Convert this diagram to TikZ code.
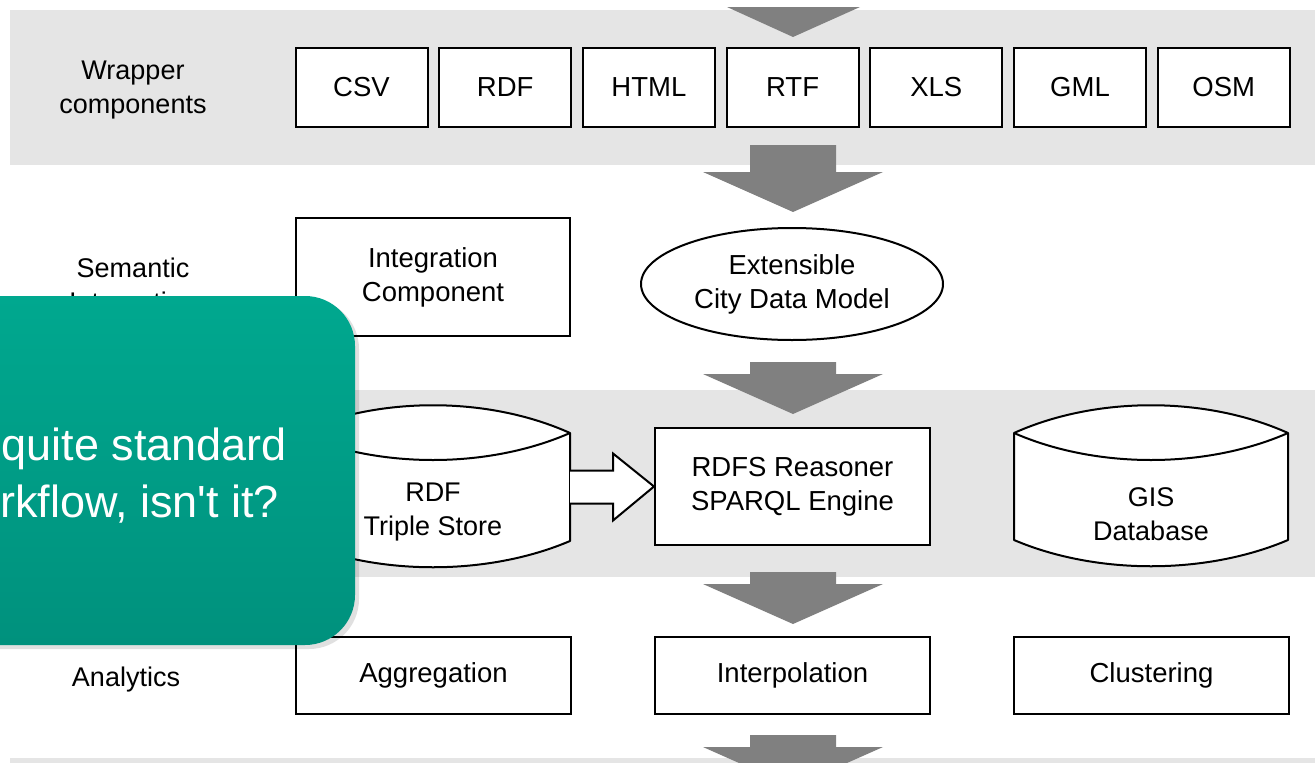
\documentclass[tikz,border=0pt]{standalone}
\usepackage{fontspec}
\setmainfont{Liberation Sans}
\newfontfamily\plainsans{Liberation Sans}
\usetikzlibrary{calc,shapes.geometric}
\definecolor{band}{RGB}{229,229,229}
\definecolor{agray}{RGB}{128,128,128}
\definecolor{tealtop}{RGB}{0,168,143}
\definecolor{tealbot}{RGB}{0,145,125}
\tikzset{
  box/.style={draw=black, line width=2pt, fill=white, inner sep=0pt,
    font=\fontsize{27.5}{34}\selectfont, align=center},
  lbl/.style={font=\fontsize{27}{34}\selectfont, align=center, inner sep=0pt},
  cyl/.style={draw=black, line width=2pt, fill=white, line join=round},
  bandfill/.style={fill=band, draw=none},
  calltext/.style={anchor=base east, text=white, inner sep=0pt,
    font=\plainsans\fontsize{45}{56}\selectfont},
}
\newcommand\BlockDown[3]{% centre x, shaft top y, head start y
  \fill[agray] (#1-43,#2) -- (#1+43,#2) -- (#1+43,#3) -- (#1+90,#3)
    -- (#1,#3+40) -- (#1-90,#3) -- (#1-43,#3) -- cycle;}
\newcommand\DbCyl[4]{% left, right, top corner y, bottom corner y
  \path[cyl] (#1,#3) .. controls ({#1+0.3*(#2-#1)},{#3-37}) and ({#2-0.3*(#2-#1)},{#3-37}) .. (#2,#3)
    -- (#2,#4) .. controls ({#2-0.3*(#2-#1)},{#4+35}) and ({#1+0.3*(#2-#1)},{#4+35}) .. (#1,#4) -- cycle;
  \draw[cyl, fill=none] (#1,#3) .. controls ({#1+0.3*(#2-#1)},{#3+36}) and ({#2-0.3*(#2-#1)},{#3+36}) .. (#2,#3);}
\begin{document}
\begin{tikzpicture}[x=1pt, y=-1pt]
\useasboundingbox (0,0) rectangle (1315,763);
\clip (0,0) rectangle (1315,763);
\fill[white] (0,0) rectangle (1315,763);

% bands
\fill[bandfill] (10,10) rectangle (1315,165);
\fill[bandfill] (10,390) rectangle (1315,577);
\fill[bandfill] (10,758) rectangle (1315,770);

% block arrows
\fill[agray] (727,7) -- (860,7) -- (793,37) -- cycle;
\BlockDown{793}{145}{172}
\BlockDown{793}{362}{374}
\BlockDown{793}{572}{584}
\BlockDown{793}{735}{747}

% row labels
\node[lbl] (lw) at (133,90) {Wrapper\\components};
\node[lbl] (ls) at (133,288) {Semantic\\Integration};
\node[lbl] (la) at (126,680) {Analytics};

% wrapper boxes
\foreach \t [count=\i from 0] in {CSV,RDF,HTML,RTF,XLS,GML,OSM}{
  \node[box, minimum width=132, minimum height=79] (w\i) at ({361.5+143.7*\i},87.5) {\t};
}

% semantic integration
\node[box, minimum width=274, minimum height=118] (integ) at (433,277) {Integration\\Component};
\node[box, ellipse, minimum width=302, minimum height=112] (model) at (792,284) {Extensible\\City Data Model};

% storage
\DbCyl{296}{570}{433}{541}
\node[lbl] (rdf) at (433,512) {RDF\\Triple Store};
\coordinate (rdfE) at (570,487);
\node[box, minimum width=275, minimum height=117] (rdfs) at (792.5,486.5) {RDFS Reasoner\\SPARQL Engine};
\DbCyl{1014}{1288}{433}{540}
\node[lbl] (gis) at (1151,514) {GIS\\Database};

% hollow arrow
\draw[line width=2pt, fill=white, line join=miter]
  ($(rdfE)+(0,-16.5)$) -- ($(rdfE)+(43,-16.5)$) -- ($(rdfE)+(43,-33.5)$)
  -- (rdfs.west) -- ($(rdfE)+(43,33.5)$) -- ($(rdfE)+(43,16.5)$) -- ($(rdfE)+(0,16.5)$);

% analytics
\node[box, minimum width=275, minimum height=77] (agg) at (433.5,675.5) {Aggregation};
\node[box, minimum width=275, minimum height=77] (interp) at (792.5,675.5) {Interpolation};
\node[box, minimum width=275, minimum height=77] (clust) at (1151.5,675.5) {Clustering};

% callout
\fill[black, opacity=0.12, rounded corners=50] (-57,299) rectangle (359,649);
\shade[top color=tealtop, bottom color=tealbot, rounded corners=50] (-60,296) rectangle (355,645);
\node[calltext] (c1) at (287,460) {quite standard};
\node[calltext] (c2) at (279,517) {rkflow, isn't it?};
\end{tikzpicture}
\end{document}
